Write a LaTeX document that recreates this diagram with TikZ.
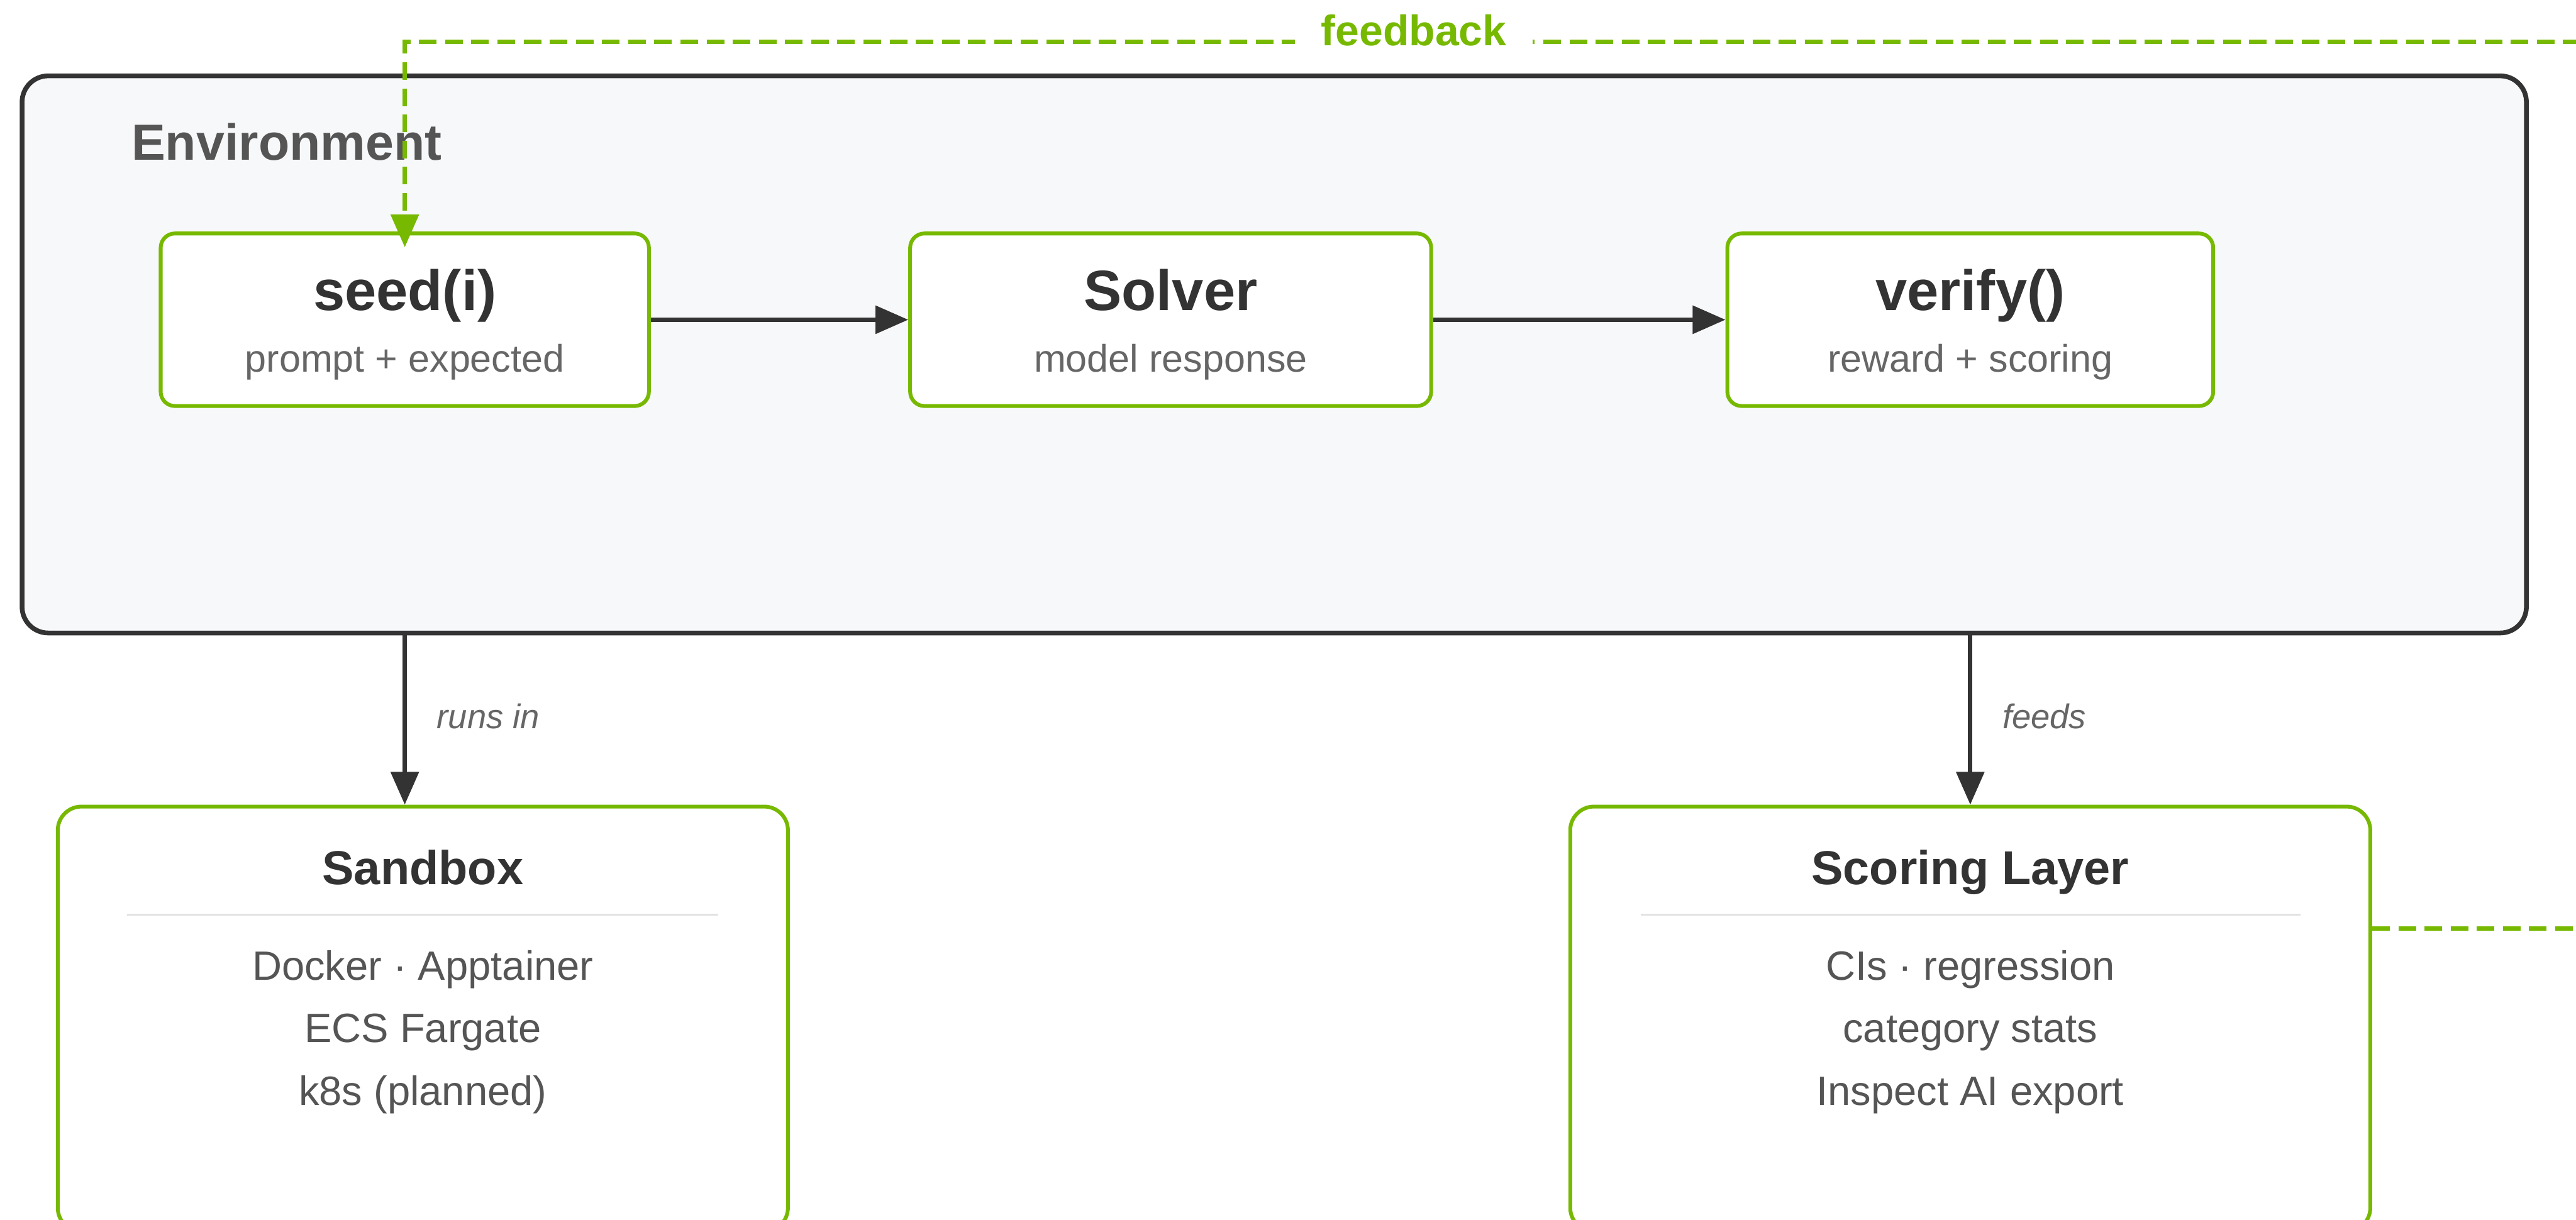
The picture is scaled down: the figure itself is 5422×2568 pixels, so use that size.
\documentclass[tikz,border=0pt]{standalone}
\usepackage{fontspec}
\setmainfont{Liberation Sans}
\usetikzlibrary{arrows.meta}

\definecolor{nvgreen}{HTML}{76B900}
\definecolor{ink}{HTML}{333333}
\definecolor{mid}{HTML}{555555}
\definecolor{soft}{HTML}{666666}
\definecolor{envfill}{HTML}{F7F8FA}
\definecolor{rulegray}{HTML}{E2E2E2}

\tikzset{
  envbox/.style={draw=ink, line width=0.1cm, fill=envfill, rounded corners=0.55cm, inner sep=0pt},
  stage/.style={draw=nvgreen, line width=0.08cm, fill=white, rounded corners=0.3cm, inner sep=0pt, minimum height=3.63cm},
  block/.style={draw=nvgreen, line width=0.08cm, fill=white, rounded corners=0.5cm, inner sep=0pt, minimum height=8.94cm},
  ttl/.style={anchor=base, inner sep=0pt, text=ink, font=\fontsize{34}{40}\selectfont\bfseries},
  sub/.style={anchor=base, inner sep=0pt, text=soft, font=\fontsize{23}{28}\selectfont},
  blockttl/.style={anchor=base, inner sep=0pt, text=ink, font=\fontsize{28.5}{34}\selectfont\bfseries},
  item/.style={anchor=base, inner sep=0pt, text=mid, font=\fontsize{24.5}{30}\selectfont},
  edgelbl/.style={anchor=base west, inner sep=0pt, text=soft, font=\fontsize{20.5}{25}\selectfont\itshape},
  flow/.style={draw=ink, line width=0.09cm, -{Triangle[length=0.69cm,width=0.58cm]}},
  fb/.style={draw=nvgreen, line width=0.09cm, dash pattern=on 0.37cm off 0.18cm,
    -{Triangle[length=0.69cm,width=0.58cm]}},
  seprule/.style={draw=rulegray, line width=0.035cm}
}

\begin{document}
\begin{tikzpicture}[x=0.01cm, y=-0.01cm]
\fill[white, use as bounding box] (0,0) rectangle (5422,2568);
\clip (0,0) rectangle (5422,2568);

% environment and its stages
\path (2682,746) node[envbox, minimum width=52.68cm, minimum height=11.72cm] (env) {}
      (276,337) node[anchor=base west, inner sep=0pt, text=mid, font=\fontsize{30.4}{36}\selectfont\bfseries] (envT) {Environment}
      (852,673) node[stage, minimum width=10.27cm] (seed) {}
      (2464,673) node[stage, minimum width=10.96cm] (solver) {}
      (4147,673) node[stage, minimum width=10.22cm] (verify) {};

\path (852,653) node[ttl] (seedT) {seed(i)}
      (852,783) node[sub] (seedS) {prompt + expected}
      (2464,653) node[ttl] (solverT) {Solver}
      (2464,783) node[sub] (solverS) {model response}
      (4147,653) node[ttl] (verifyT) {verify()}
      (4147,783) node[sub] (verifyS) {reward + scoring};

% lower blocks
\path (890,2145) node[block, minimum width=15.36cm] (sandbox) {}
      (4147,2145) node[block, minimum width=16.83cm] (scoring) {};

\path (890,1862) node[blockttl] (sandboxT) {Sandbox}
      (890,2063) node[item] (sbA) {Docker · Apptainer}
      (890,2194) node[item] (sbB) {ECS Fargate}
      (890,2327) node[item] (sbC) {k8s (planned)}
      (4147,1862) node[blockttl] (scoringT) {Scoring Layer}
      (4147,2063) node[item] (scA) {CIs · regression}
      (4147,2194) node[item] (scB) {category stats}
      (4147,2327) node[item] (scC) {Inspect AI export};

\draw[seprule] (267,1925) -- (1512,1925);
\draw[seprule] (3453,1925) -- (4842,1925);

% connectors
\draw[flow] (seed) -- (solver);
\draw[flow] (solver) -- (verify);
\draw[flow] (seed |- env.south) -- (seed |- sandbox.north);
\draw[flow] (verify |- env.south) -- (verify |- scoring.north);

\path (919,1533) node[edgelbl] (runsL) {runs in}
      (4214,1533) node[edgelbl] (feedsL) {feeds};

% feedback loop
\coordinate (fbexit) at (5600,1954);
\coordinate (fbturn) at (5600,88);
\draw[fb, shorten >=-0.33cm] (scoring.east |- fbexit) -- (fbexit) -- (fbturn) -| (seed.north);
\path (2976,96) node[anchor=base, fill=white, inner xsep=0.55cm, inner ysep=0.12cm, text=nvgreen, font=\fontsize{25.6}{30}\selectfont\bfseries] (fbL) {feedback};
\end{tikzpicture}
\end{document}
